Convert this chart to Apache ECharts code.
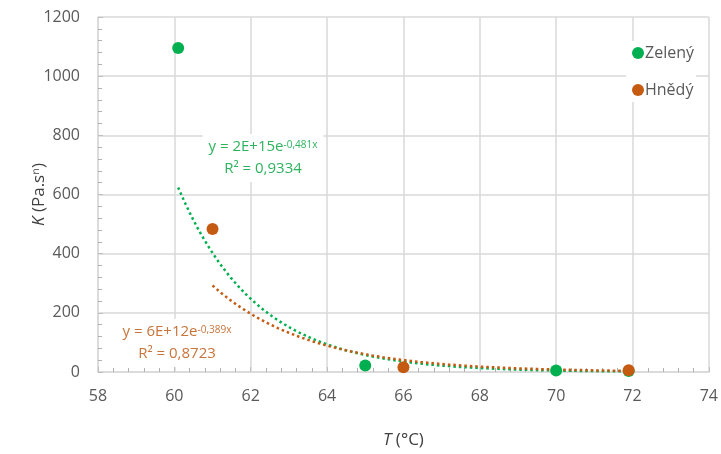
<!DOCTYPE html>
<html><head><meta charset="utf-8">
<script src="https://cdn.jsdelivr.net/npm/echarts@6/dist/echarts.min.js"></script>
<style>html,body{margin:0;padding:0;background:#fff}#c{width:721px;height:454px}</style>
</head><body><div id="c"></div>
<script>
// Data
var greenName = 'Zelený';
var brownName = 'Hnědý';
var greenT = [60.1, 65, 70, 71.9];
var greenK = [1095, 22, 5, 3];
var brownT = [61, 66, 71.9];
var brownK = [483, 16, 6];
var xTicks = [58, 60, 62, 64, 66, 68, 70, 72, 74];
var yTicks = [0, 200, 400, 600, 800, 1000, 1200];
var greenEq = ['y = 2E+15e', '-0,481x', 'R² = 0,9334'];
var brownEq = ['y = 6E+12e', '-0,389x', 'R² = 0,8723'];

// Exponential least-squares fit (as a spreadsheet trendline does: ln y = ln a + b x)
function expFit(xs, ys) {
  var n = xs.length, mx = 0, my = 0;
  var ly = ys.map(function (v) { return Math.log(v); });
  for (var i = 0; i < n; i++) { mx += xs[i]; my += ly[i]; }
  mx /= n; my /= n;
  var sxy = 0, sxx = 0;
  for (var j = 0; j < n; j++) { sxy += (xs[j] - mx) * (ly[j] - my); sxx += (xs[j] - mx) * (xs[j] - mx); }
  var b = sxy / sxx, la = my - b * mx;
  return function (x) { return Math.exp(la + b * x); };
}
function trend(xs, ys) {
  var f = expFit(xs, ys), out = [];
  var x0 = Math.min.apply(null, xs), x1 = Math.max.apply(null, xs);
  var steps = 120;
  for (var i = 0; i <= steps; i++) { var x = x0 + (x1 - x0) * i / steps; out.push([x, f(x)]); }
  return out;
}
function pairs(xs, ys) { return xs.map(function (x, i) { return [x, ys[i]]; }); }

var GREEN = '#00B050', BROWN = '#C55A11';
var GREEN_T = '#2DB35E', BROWN_T = '#C8743A';
var FONT = '"Open Sans", "Liberation Sans", sans-serif';
var GRID = '#D9D9D9', TXT = '#595959';

var chart = echarts.init(document.getElementById('c'), null, { renderer: 'canvas' });

function eqText(eq, color, cx, cy) {
  return {
    type: 'text', x: cx, y: cy, z: 100,
    style: {
      text: '{m|' + eq[0] + '}{s|' + eq[1] + '}\n{m|' + eq[2] + '}',
      align: 'center', verticalAlign: 'top',
      backgroundColor: '#fff',
      padding: [2, 6, 2, 6],
      fill: color,
      font: '15px ' + FONT,
      rich: {
        m: { fontSize: 15, fontFamily: FONT, fill: color, lineHeight: 22, align: 'center' },
        s: { fontSize: 10, fontFamily: FONT, fill: color, lineHeight: 22, verticalAlign: 'bottom', padding: [0, 0, 8, 0] }
      }
    }
  };
}

chart.setOption({
  animation: false,
  backgroundColor: '#fff',
  grid: { left: 98, right: 10, top: 17, bottom: 81, containLabel: false },
  legend: {
    data: [greenName, brownName],
    orient: 'vertical', right: 25, top: 41,
    itemGap: 21, itemWidth: 12, itemHeight: 12, icon: 'circle',
    backgroundColor: '#fff', padding: [4, 2, 4, 6],
    textStyle: { fontFamily: FONT, fontSize: 16, color: TXT, padding: [0, 0, 0, -4] }
  },
  xAxis: {
    type: 'value', min: xTicks[0], max: xTicks[xTicks.length - 1], interval: 2,
    name: '{i|T} (°C)', nameLocation: 'middle', nameGap: 60,
    nameTextStyle: { fontFamily: FONT, fontSize: 17, color: '#404040',
      rich: { i: { fontStyle: 'italic', fontFamily: FONT, fontSize: 17, color: '#404040' } } },
    axisLine: { show: true, lineStyle: { color: GRID, width: 1.5 } },
    axisTick: { show: true, inside: true, length: 5, lineStyle: { color: '#BFBFBF' } },
    minorTick: { show: true, splitNumber: 5, length: 4, lineStyle: { color: '#B0B0B0' } },
    axisLabel: { fontFamily: FONT, fontSize: 16, color: TXT, margin: 16,
      formatter: function (v) { return String(v); } },
    splitLine: { show: true, lineStyle: { color: GRID, width: 1.5 } }
  },
  yAxis: {
    type: 'value', min: yTicks[0], max: yTicks[yTicks.length - 1], interval: 200,
    name: '{i|K} (Pa.sⁿ)', nameLocation: 'middle', nameGap: 50, nameRotate: 90,
    nameMoveOverlap: false,
    nameTextStyle: { fontFamily: FONT, fontSize: 17, color: '#404040',
      rich: { i: { fontStyle: 'italic', fontFamily: FONT, fontSize: 17, color: '#404040' } } },
    axisLine: { show: true, lineStyle: { color: GRID, width: 1.5 } },
    axisTick: { show: true, inside: true, length: 5, lineStyle: { color: '#BFBFBF' } },
    minorTick: { show: true, splitNumber: 5, length: 4, lineStyle: { color: '#B0B0B0' } },
    axisLabel: { fontFamily: FONT, fontSize: 16, color: TXT, margin: 18,
      formatter: function (v) { return String(v); } },
    splitLine: { show: true, lineStyle: { color: GRID, width: 1.5 } }
  },
  graphic: [
    eqText(greenEq, GREEN_T, 263, 134),
    eqText(brownEq, BROWN_T, 177, 319)
  ],
  series: [
    { name: greenName + ' trend', type: 'line', data: trend(greenT, greenK), showSymbol: false, z: 2,
      lineStyle: { color: GREEN, width: 2.5, type: [2.5, 3] }, silent: true },
    { name: brownName + ' trend', type: 'line', data: trend(brownT, brownK), showSymbol: false, z: 2,
      lineStyle: { color: BROWN, width: 2.5, type: [2.5, 3] }, silent: true },
    { name: greenName, type: 'scatter', data: pairs(greenT, greenK), symbolSize: 12, z: 5,
      itemStyle: { color: GREEN, opacity: 1 } },
    { name: brownName, type: 'scatter', data: pairs(brownT, brownK), symbolSize: 12, z: 5,
      itemStyle: { color: BROWN, opacity: 1 } }
  ]
});
</script>
</body></html>
